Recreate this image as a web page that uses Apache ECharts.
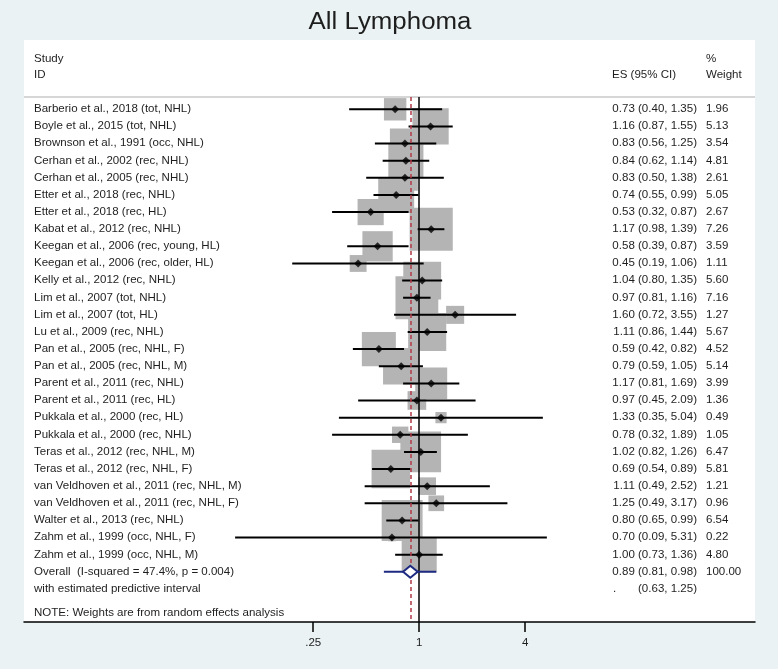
<!DOCTYPE html>
<html><head><meta charset="utf-8">
<script src="https://cdn.jsdelivr.net/npm/echarts@6/dist/echarts.min.js"></script>
<style>html,body{margin:0;padding:0;background:#eaf2f3}#c{width:778px;height:669px}</style>
</head><body><div id="c"></div>
<script>
// ---- data ----
const studies = [
  'Barberio et al., 2018 (tot, NHL)',
  'Boyle et al., 2015 (tot, NHL)',
  'Brownson et al., 1991 (occ, NHL)',
  'Cerhan et al., 2002 (rec, NHL)',
  'Cerhan et al., 2005 (rec, NHL)',
  'Etter et al., 2018 (rec, NHL)',
  'Etter et al., 2018 (rec, HL)',
  'Kabat et al., 2012 (rec, NHL)',
  'Keegan et al., 2006 (rec, young, HL)',
  'Keegan et al., 2006 (rec, older, HL)',
  'Kelly et al., 2012 (rec, NHL)',
  'Lim et al., 2007 (tot, NHL)',
  'Lim et al., 2007 (tot, HL)',
  'Lu et al., 2009 (rec, NHL)',
  'Pan et al., 2005 (rec, NHL, F)',
  'Pan et al., 2005 (rec, NHL, M)',
  'Parent et al., 2011 (rec, NHL)',
  'Parent et al., 2011 (rec, HL)',
  'Pukkala et al., 2000 (rec, HL)',
  'Pukkala et al., 2000 (rec, NHL)',
  'Teras et al., 2012 (rec, NHL, M)',
  'Teras et al., 2012 (rec, NHL, F)',
  'van Veldhoven et al., 2011 (rec, NHL, M)',
  'van Veldhoven et al., 2011 (rec, NHL, F)',
  'Walter et al., 2013 (rec, NHL)',
  'Zahm et al., 1999 (occ, NHL, F)',
  'Zahm et al., 1999 (occ, NHL, M)'
];
const es     = [0.73,1.16,0.83,0.84,0.83,0.74,0.53,1.17,0.58,0.45,1.04,0.97,1.60,1.11,0.59,0.79,1.17,0.97,1.33,0.78,1.02,0.69,1.11,1.25,0.80,0.70,1.00];
const ciLow  = [0.40,0.87,0.56,0.62,0.50,0.55,0.32,0.98,0.39,0.19,0.80,0.81,0.72,0.86,0.42,0.59,0.81,0.45,0.35,0.32,0.82,0.54,0.49,0.49,0.65,0.09,0.73];
const ciHigh = [1.35,1.55,1.25,1.14,1.38,0.99,0.87,1.39,0.87,1.06,1.35,1.16,3.55,1.44,0.82,1.05,1.69,2.09,5.04,1.89,1.26,0.89,2.52,3.17,0.99,5.31,1.36];
const weights= [1.96,5.13,3.54,4.81,2.61,5.05,2.67,7.26,3.59,1.11,5.60,7.16,1.27,5.67,4.52,5.14,3.99,1.36,0.49,1.05,6.47,5.81,1.21,0.96,6.54,0.22,4.80];
const overallLabel = 'Overall  (I-squared = 47.4%, p = 0.004)';
const overallEs = 0.89, overallLow = 0.81, overallHigh = 0.98, overallWeight = 100.00;
const predLabel = 'with estimated predictive interval';
const predLow = 0.63, predHigh = 1.25;
const tickValues = [0.25, 1, 4];
const tickLabels = ['.25', '1', '4'];

// ---- styling ----
const FONT = '"Liberation Sans", Arial, sans-serif';
const TXT = '#1e1e1e';
const FS = 10.4, SX = 1.11;
const BOX_K = 16;
const f2 = v => v.toFixed(2);

const overallRow = studies.length;
const predRow = studies.length + 1;

function txt(x, y, s, align, fs, sx) {
  return {type:'text', x:x, y:y, scaleX: sx || SX,
    style:{text:s, x:0, y:0, align:align||'left', verticalAlign:'middle',
      fontSize: fs || FS, fontFamily: FONT, fill: TXT}};
}

const rowsData = studies.map((s,i)=>[1, i]).concat([[1, overallRow],[1, predRow]]);

const chart = echarts.init(document.getElementById('c'));
chart.setOption({
  animation:false,
  backgroundColor:'#eaf2f3',
  grid:{left:24, right:23, top:97, bottom:47, containLabel:false},
  xAxis:{type:'log', logBase:2, min:Math.pow(2,-7.457), max:Math.pow(2,6.336),
    axisLine:{show:true, onZero:false, lineStyle:{color:'#000', width:1.5}},
    axisTick:{show:true, customValues:tickValues, length:10, lineStyle:{color:'#000', width:1.5}},
    axisLabel:{customValues:tickValues, margin:15, fontSize:11.5, fontFamily:FONT, color:TXT,
      formatter:(v)=>{let k=0,b=1e9; tickValues.forEach((t,j)=>{const d=Math.abs(Math.log(t)-Math.log(v)); if(d<b){b=d;k=j;}}); return tickLabels[k];}},
    splitLine:{show:false}, minorTick:{show:false}},
  yAxis:{type:'value', inverse:true, min:-0.718, max:29.93, show:false},
  graphic:[
    {type:'rect', z:-10, shape:{x:24, y:40, width:731, height:582}, style:{fill:'#fff'}},
    {type:'line', shape:{x1:24, y1:97, x2:755, y2:97}, style:{stroke:'#c8c8c8', lineWidth:1.5}},
    txt(390, 23, 'All Lymphoma', 'center', 23.5, 1.1),
    txt(34, 59.3, 'Study'),
    txt(34, 75, 'ID'),
    txt(612, 75, 'ES (95% CI)'),
    txt(706, 59.3, '%'),
    txt(706, 75, 'Weight'),
    txt(34, 613, 'NOTE: Weights are from random effects analysis')
  ],
  series:[
    {type:'scatter', z:1, silent:true, data:[], markLine:{silent:true, symbol:'none', label:{show:false},
      data:[
        {xAxis:1, lineStyle:{color:'#000', width:1.5, type:'solid'}},
        {xAxis:overallEs, lineStyle:{color:'#b03a48', width:1.5, type:[4,3]}}
      ]}},
    {type:'scatter', z:3, silent:true, symbol:'rect',
      data: es.map((v,i)=>[v, i, weights[i]]),
      symbolSize:(val)=>BOX_K*Math.sqrt(val[2]),
      itemStyle:{color:'#b4b4b4', opacity:1}},
    {type:'custom', z:4, silent:true,
      data: es.map((v,i)=>[ciLow[i], i, ciHigh[i]]),
      encode:{x:[0,2], y:1},
      renderItem:(p, api)=>{
        const a = api.coord([api.value(0), api.value(1)]);
        const b = api.coord([api.value(2), api.value(1)]);
        return {type:'line', shape:{x1:a[0], y1:a[1], x2:b[0], y2:b[1]}, style:{stroke:'#000', lineWidth:2}};
      }},
    {type:'scatter', z:5, silent:true, symbol:'diamond', symbolSize:8,
      data: es.map((v,i)=>[v, i]), itemStyle:{color:'#000'}},
    {type:'custom', z:6, silent:true,
      data:[[overallLow, overallRow, overallEs, overallHigh, predLow, predHigh]],
      encode:{x:[0,3,4,5], y:1},
      renderItem:(p, api)=>{
        const r = api.value(1);
        const l = api.coord([api.value(0), r]);
        const c = api.coord([api.value(2), r]);
        const h = api.coord([api.value(3), r]);
        const pl = api.coord([api.value(4), r]);
        const ph = api.coord([api.value(5), r]);
        const hh = 6;
        return {type:'group', children:[
          {type:'line', shape:{x1:pl[0], y1:pl[1], x2:ph[0], y2:ph[1]}, style:{stroke:'#1d2a80', lineWidth:2}},
          {type:'polygon', shape:{points:[[l[0],l[1]],[c[0],c[1]-hh],[h[0],h[1]],[c[0],c[1]+hh]]},
            style:{fill:'#fff', stroke:'#1d2a80', lineWidth:2}}
        ]};
      }},
    {type:'custom', z:7, silent:true, data: rowsData, encode:{x:0, y:1},
      renderItem:(p, api)=>{
        const i = p.dataIndex;
        const y = api.coord([1, api.value(1)])[1];
        let label, esTxt, wTxt, dot = null;
        if (i < studies.length) {
          label = studies[i];
          esTxt = f2(es[i]) + ' (' + f2(ciLow[i]) + ', ' + f2(ciHigh[i]) + ')';
          wTxt = f2(weights[i]);
        } else if (i === overallRow) {
          label = overallLabel;
          esTxt = f2(overallEs) + ' (' + f2(overallLow) + ', ' + f2(overallHigh) + ')';
          wTxt = f2(overallWeight);
        } else {
          label = predLabel;
          esTxt = '(' + f2(predLow) + ', ' + f2(predHigh) + ')';
          wTxt = '';
          dot = '.';
        }
        const ch = [txt(34, y, label), txt(697, y, esTxt, 'right'), txt(706, y, wTxt)];
        if (dot) ch.push(txt(613, y, dot));
        return {type:'group', children:ch};
      }}
  ]
});
</script></body></html>
